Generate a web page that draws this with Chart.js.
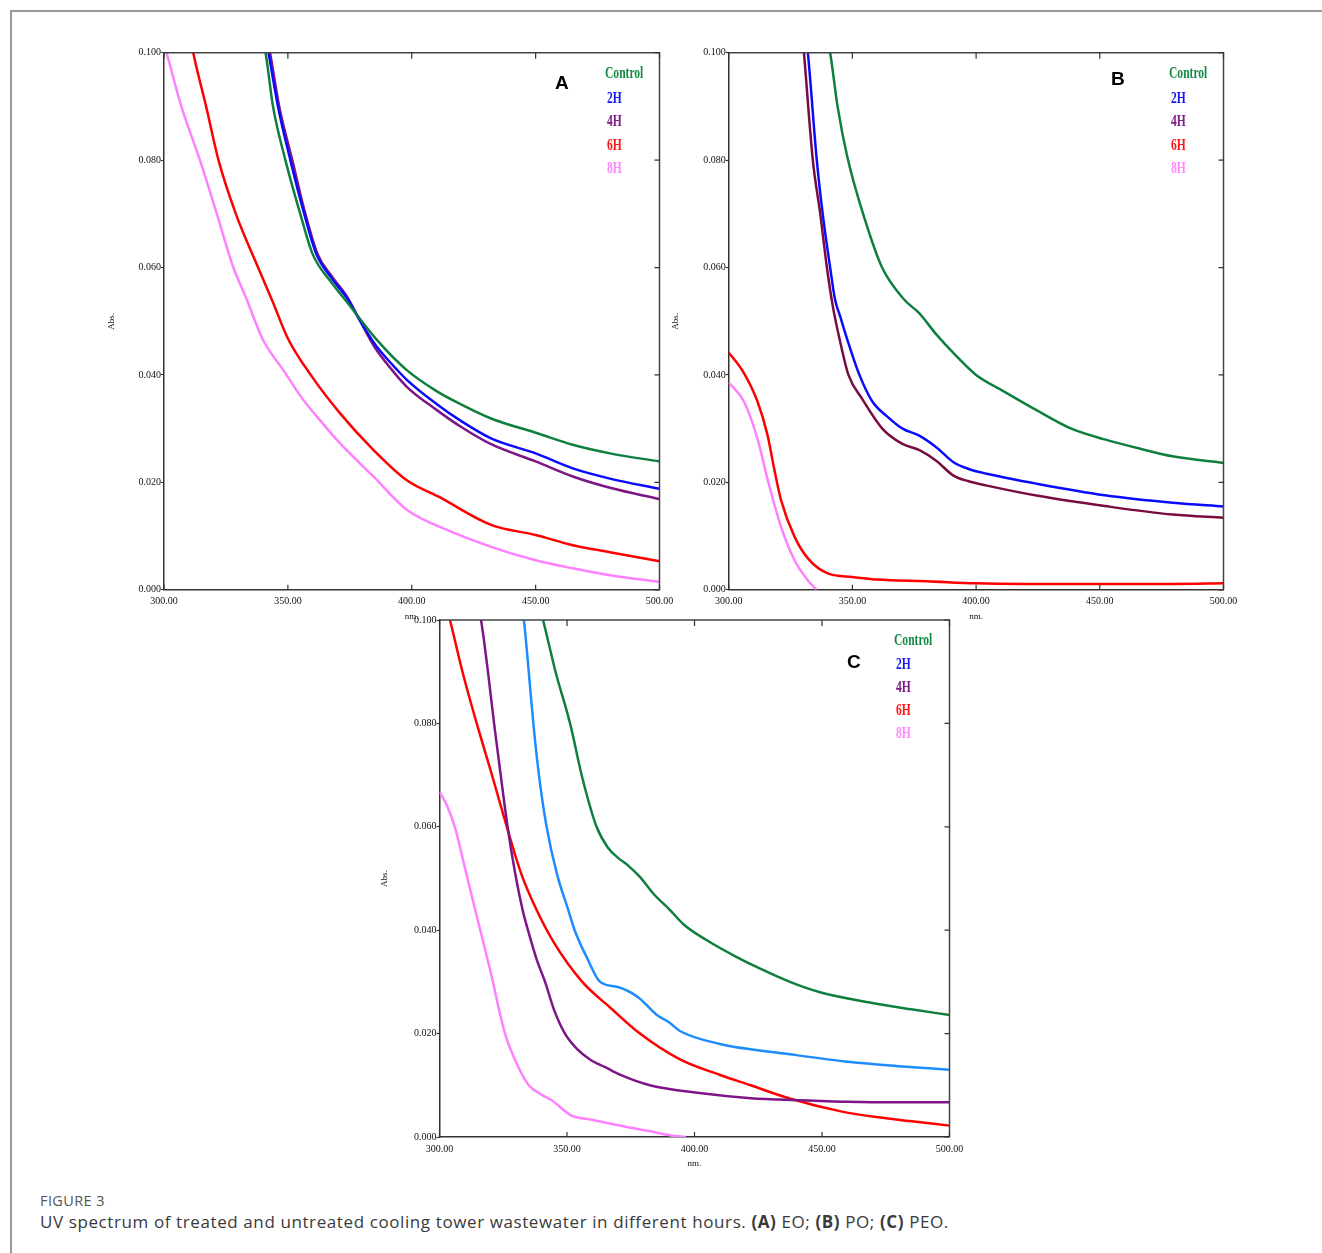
<!DOCTYPE html>
<html>
<head>
<meta charset="utf-8">
<script src="https://cdn.jsdelivr.net/npm/chart.js@4.4.1/dist/chart.umd.min.js"></script>
<style>
  html, body { margin: 0; padding: 0; background: #fff; }
  body { width: 1322px; height: 1253px; position: relative; overflow: hidden; }
  #frame { position: absolute; left: 10px; top: 10px; width: 1320px; height: 1250px;
           border-top: 2px solid #999; border-left: 2px solid #999; }
  .cv { position: absolute; }
  .leg { position: absolute; font-family: "Liberation Serif", serif; font-weight: bold;
         font-size: 17px; line-height: 17px; white-space: nowrap;
         transform: scaleX(0.68); transform-origin: 0 50%; }
  .letter { position: absolute; font-family: "Liberation Sans", Arial, sans-serif; font-weight: bold;
            font-size: 19px; line-height: 19px; color: #000; }
  #figlabel { position: absolute; left: 40px; top: 1191px; font-family: "Open Sans", sans-serif;
              font-size: 14.5px; color: #555; letter-spacing: 0.4px; }
  #caption { position: absolute; left: 40px; top: 1210px; font-family: "Open Sans", sans-serif;
             font-size: 17px; letter-spacing: 0.6px; color: #3a3a3a; white-space: nowrap; }
  #caption b { font-weight: 700; }
</style>
</head>
<body>
<div id="frame"></div>

<canvas id="chartA" class="cv" width="590" height="600" style="left:100px;top:40px;"></canvas>
<canvas id="chartB" class="cv" width="590" height="600" style="left:664px;top:40px;"></canvas>
<canvas id="chartC" class="cv" width="610" height="590" style="left:370px;top:600px;"></canvas>

<!-- Panel A legend -->
<div class="letter" style="left:555px;top:73px;">A</div>
<div class="leg" style="left:605px;top:64px;color:#138b44;">Control</div>
<div class="leg" style="left:607px;top:89px;color:#1616ee;">2H</div>
<div class="leg" style="left:607px;top:112px;color:#7f1a86;">4H</div>
<div class="leg" style="left:607px;top:136px;color:#ff1414;">6H</div>
<div class="leg" style="left:607px;top:159px;color:#ff88ff;">8H</div>

<!-- Panel B legend -->
<div class="letter" style="left:1111px;top:69px;">B</div>
<div class="leg" style="left:1169px;top:64px;color:#138b44;">Control</div>
<div class="leg" style="left:1171px;top:89px;color:#1616ee;">2H</div>
<div class="leg" style="left:1171px;top:112px;color:#7f1a86;">4H</div>
<div class="leg" style="left:1171px;top:136px;color:#ff1414;">6H</div>
<div class="leg" style="left:1171px;top:159px;color:#ff88ff;">8H</div>

<!-- Panel C legend -->
<div class="letter" style="left:847px;top:652px;">C</div>
<div class="leg" style="left:894px;top:631px;color:#138b44;">Control</div>
<div class="leg" style="left:896px;top:655px;color:#1616ee;">2H</div>
<div class="leg" style="left:896px;top:678px;color:#7f1a86;">4H</div>
<div class="leg" style="left:896px;top:701px;color:#ff1414;">6H</div>
<div class="leg" style="left:896px;top:724px;color:#ff88ff;">8H</div>

<div id="figlabel">FIGURE 3</div>
<div id="caption">UV spectrum of treated and untreated cooling tower wastewater in different hours. <b>(A)</b> EO; <b>(B)</b> PO; <b>(C)</b> PEO.</div>

<script>
// ---------- Axis ticks ----------
const xTickValues = [300, 350, 400, 450, 500];
const yTickValues = [0, 0.02, 0.04, 0.06, 0.08, 0.10];
const seriesNames = ['Control', '2H', '4H', '6H', '8H'];

// ---------- Panel A (EO) ----------
const a_ctrl_nm  = [339, 341, 344, 349, 355, 360, 368, 374, 379, 386, 398, 410, 420, 432, 451, 465, 480, 500];
const a_ctrl_abs = [0.104, 0.100, 0.090, 0.080, 0.070, 0.0625, 0.057, 0.0535, 0.0505, 0.0465, 0.0409, 0.0370, 0.0345, 0.0319, 0.0291, 0.0270, 0.0254, 0.0239];
const a_2h_nm    = [341, 342.2, 346, 351, 356, 361.5, 368, 374, 379, 385, 391, 398, 410, 420, 432, 450, 465, 480, 500];
const a_2h_abs   = [0.103, 0.100, 0.090, 0.080, 0.071, 0.0625, 0.0578, 0.0542, 0.0502, 0.0458, 0.0425, 0.0391, 0.0346, 0.0314, 0.0282, 0.0254, 0.0226, 0.0207, 0.0188];
const a_4h_nm    = [341.5, 342.8, 346.5, 351.8, 356.5, 362, 368, 374, 379, 385, 391, 398, 410, 420, 432, 450, 465, 480, 500];
const a_4h_abs   = [0.103, 0.100, 0.090, 0.080, 0.071, 0.0625, 0.0582, 0.0545, 0.0502, 0.0452, 0.0415, 0.0378, 0.0335, 0.0303, 0.0271, 0.0239, 0.0211, 0.0190, 0.0169];
const a_6h_nm    = [311, 311.8, 317, 322, 329, 338, 344, 350, 360, 371, 384, 398, 411, 432, 450, 465, 480, 500];
const a_6h_abs   = [0.102, 0.100, 0.090, 0.080, 0.070, 0.060, 0.0535, 0.0468, 0.0395, 0.0329, 0.0263, 0.0204, 0.0173, 0.0121, 0.0102, 0.0083, 0.0070, 0.0053];
const a_8h_nm    = [300, 301, 307, 314.5, 321, 328, 333, 340, 348, 356, 364, 371, 384.5, 398, 415, 432, 450, 465, 480, 500];
const a_8h_abs   = [0.1015, 0.100, 0.090, 0.080, 0.0705, 0.060, 0.0545, 0.0465, 0.041, 0.0355, 0.031, 0.0273, 0.0211, 0.0149, 0.0110, 0.0080, 0.0055, 0.0040, 0.0027, 0.0015];

// ---------- Panel B (PO) ----------
const b_ctrl_nm  = [339, 341, 344, 348, 355, 362, 371, 377, 384, 391, 400, 411, 425, 438.5, 452, 466, 480, 500];
const b_ctrl_abs = [0.104, 0.100, 0.090, 0.0805, 0.069, 0.060, 0.054, 0.0515, 0.0475, 0.0440, 0.0400, 0.0370, 0.0333, 0.0300, 0.0280, 0.0263, 0.0248, 0.0236];
const b_2h_nm    = [331.5, 332, 335.6, 338, 341, 343, 345, 348, 352.6, 358, 364, 370.3, 377, 384, 390.7, 397, 404.4, 425, 452, 479.5, 500];
const b_2h_abs   = [0.102, 0.100, 0.080, 0.070, 0.060, 0.054, 0.051, 0.0465, 0.0403, 0.0351, 0.0323, 0.0300, 0.0287, 0.0265, 0.0238, 0.0225, 0.0216, 0.0197, 0.0176, 0.0162, 0.0155];
const b_4h_nm    = [330, 330.4, 334, 337, 339.7, 342, 344.9, 348.4, 354, 362.1, 370, 377.1, 384, 390.7, 397, 404.4, 425, 452, 479.5, 500];
const b_4h_abs   = [0.102, 0.100, 0.080, 0.070, 0.060, 0.053, 0.0465, 0.0400, 0.0355, 0.0300, 0.0272, 0.0260, 0.0240, 0.0213, 0.0202, 0.0194, 0.0175, 0.0156, 0.0140, 0.0134];
const b_6h_nm    = [300, 306.1, 311.6, 315.7, 318.4, 321.1, 326.6, 332.1, 340.3, 350, 360, 380, 400, 420, 450, 480, 500];
const b_6h_abs   = [0.0442, 0.0404, 0.0351, 0.0288, 0.0225, 0.0168, 0.0099, 0.0058, 0.0030, 0.0024, 0.0019, 0.0016, 0.0012, 0.0011, 0.0011, 0.0011, 0.0012];
const b_8h_nm    = [300, 306.1, 311.6, 315.7, 321.1, 326.6, 332.1, 335.5];
const b_8h_abs   = [0.0386, 0.0351, 0.0282, 0.0206, 0.0118, 0.0055, 0.0017, 0.0000];

// ---------- Panel C (PEO) ----------
const c_ctrl_nm  = [339.5, 340.6, 345.5, 351.2, 356, 361.6, 366, 370, 374, 378.6, 384, 390.4, 396, 405, 415.8, 426, 437.4, 449.2, 468.8, 485, 500];
const c_ctrl_abs = [0.102, 0.100, 0.090, 0.080, 0.0695, 0.060, 0.056, 0.054, 0.0525, 0.0503, 0.047, 0.0439, 0.0410, 0.0380, 0.0350, 0.0325, 0.0300, 0.0280, 0.0260, 0.0247, 0.0236];
const c_2h_nm    = [332.5, 333.1, 335, 336.8, 339, 342, 346, 350.5, 353, 358, 363, 370, 378, 385, 390, 394.3, 410, 437.5, 461, 480, 500];
const c_2h_abs   = [0.102, 0.100, 0.090, 0.080, 0.070, 0.060, 0.051, 0.0439, 0.040, 0.0345, 0.0300, 0.0290, 0.0270, 0.0237, 0.0222, 0.0205, 0.0180, 0.0160, 0.0145, 0.0137, 0.0130];
const c_4h_nm    = [315.5, 316.3, 319, 321.4, 324, 326.7, 329.5, 332.6, 334.7, 338, 341.4, 345, 349.2, 354, 359, 365, 371, 382.5, 402, 422, 441, 460, 480, 500];
const c_4h_abs   = [0.102, 0.100, 0.090, 0.080, 0.070, 0.060, 0.0515, 0.0439, 0.0400, 0.0345, 0.0300, 0.0245, 0.0200, 0.0170, 0.0150, 0.0135, 0.0120, 0.0100, 0.0085, 0.0075, 0.0071, 0.0068, 0.0067, 0.0067];
const c_6h_nm    = [303, 304.1, 309, 314.6, 320, 326.4, 332, 338, 345, 356, 367, 378.6, 394.3, 410, 422, 437, 457, 472, 486, 500];
const c_6h_abs   = [0.102, 0.100, 0.090, 0.080, 0.071, 0.060, 0.051, 0.044, 0.0375, 0.0300, 0.0250, 0.0200, 0.0150, 0.0120, 0.0100, 0.0075, 0.0050, 0.0038, 0.0030, 0.0022];
const c_8h_nm    = [300, 303, 306, 310, 314, 316, 320, 325.7, 330, 335, 340, 344, 351.6, 360, 366.7, 375, 381.8, 390.8, 396.6];
const c_8h_abs   = [0.0668, 0.0640, 0.0600, 0.0520, 0.0439, 0.0400, 0.0320, 0.0200, 0.0145, 0.0100, 0.0082, 0.0071, 0.0042, 0.0033, 0.0026, 0.0018, 0.0012, 0.0003, 0.0000];

// ---------- helpers ----------
function pairs(nm, abs) { return nm.map((x, i) => ({ x: x, y: abs[i] })); }

const framePlugin = {
  id: 'frame',
  afterDraw(chart) {
    const { ctx, chartArea: a } = chart;
    const xs = chart.scales.x, ys = chart.scales.y;
    ctx.save();
    ctx.strokeStyle = '#444';
    ctx.lineWidth = 1.5;
    ctx.beginPath();
    ctx.moveTo(a.left, a.top); ctx.lineTo(a.right, a.top); ctx.lineTo(a.right, a.bottom);
    ctx.stroke();
    ctx.lineWidth = 1.2;
    ctx.strokeStyle = '#333';
    ctx.beginPath();
    xs.ticks.forEach(t => {
      const px = xs.getPixelForValue(t.value);
      ctx.moveTo(px, a.top); ctx.lineTo(px, a.top + 6);
      ctx.moveTo(px, a.bottom); ctx.lineTo(px, a.bottom - 5);
    });
    ys.ticks.forEach(t => {
      const py = ys.getPixelForValue(t.value);
      ctx.moveTo(a.right, py); ctx.lineTo(a.right - 5, py);
    });
    ctx.stroke();
    ctx.restore();
  }
};

function makeChart(id, sets, colors, pad, yWidth) {
  const datasets = sets.map((s, i) => ({
    label: seriesNames[i],
    data: pairs(s[0], s[1]),
    borderColor: colors[i],
    borderWidth: 2.5,
    pointRadius: 0,
    fill: false,
    cubicInterpolationMode: 'monotone'
  }));
  return new Chart(document.getElementById(id), {
    type: 'line',
    data: { datasets: datasets },
    options: {
      responsive: false,
      animation: false,
      events: [],
      layout: { padding: pad },
      plugins: { legend: { display: false }, tooltip: { enabled: false } },
      scales: {
        x: {
          type: 'linear', min: 300, max: 500,
          afterBuildTicks: s => { s.ticks = xTickValues.map(v => ({ value: v })); },
          ticks: { callback: v => Number(v).toFixed(2), font: { family: 'Liberation Serif', size: 10 },
                   color: '#111', maxRotation: 0, autoSkip: false, padding: 6 },
          grid: { drawOnChartArea: false, drawTicks: false },
          border: { display: true, color: '#333', width: 1.5 },
          title: { display: true, text: 'nm.', font: { family: 'Liberation Serif', size: 9 }, color: '#111', padding: 0 },
          afterFit: s => { s.height = 32; }
        },
        y: {
          type: 'linear', min: 0, max: 0.1,
          afterBuildTicks: s => { s.ticks = yTickValues.map(v => ({ value: v })); },
          ticks: { callback: v => Number(v).toFixed(3), font: { family: 'Liberation Serif', size: 10 },
                   color: '#111', padding: 0, autoSkip: false },
          grid: { drawOnChartArea: false, drawTicks: true, tickLength: 3, color: '#333', tickWidth: 1.2 },
          border: { display: true, color: '#333', width: 1.5 },
          title: { display: true, text: 'Abs.', font: { family: 'Liberation Serif', size: 9 }, color: '#111', padding: 0 },
          afterFit: s => { s.width = yWidth; }
        }
      }
    },
    plugins: [framePlugin]
  });
}

makeChart('chartA',
  [[a_ctrl_nm, a_ctrl_abs], [a_2h_nm, a_2h_abs], [a_4h_nm, a_4h_abs], [a_6h_nm, a_6h_abs], [a_8h_nm, a_8h_abs]],
  ['#0f7f3f', '#0a0aff', '#7d1488', '#ff0000', '#ff80ff'],
  { left: 6.6, top: 12.7, right: 30.5, bottom: 18.2 }, 57.4);

makeChart('chartB',
  [[b_ctrl_nm, b_ctrl_abs], [b_2h_nm, b_2h_abs], [b_4h_nm, b_4h_abs], [b_6h_nm, b_6h_abs], [b_8h_nm, b_8h_abs]],
  ['#0f7f3f', '#0a0aff', '#780c40', '#ff0000', '#ff80ff'],
  { left: 6.6, top: 12.7, right: 30.5, bottom: 18.2 }, 58.1);

makeChart('chartC',
  [[c_ctrl_nm, c_ctrl_abs], [c_2h_nm, c_2h_abs], [c_4h_nm, c_4h_abs], [c_6h_nm, c_6h_abs], [c_8h_nm, c_8h_abs]],
  ['#0f7f3f', '#1e8cff', '#7d1488', '#ff0000', '#ff80ff'],
  { left: 9.6, top: 20, right: 30.5, bottom: 21 }, 59.9);
</script>
</body>
</html>
